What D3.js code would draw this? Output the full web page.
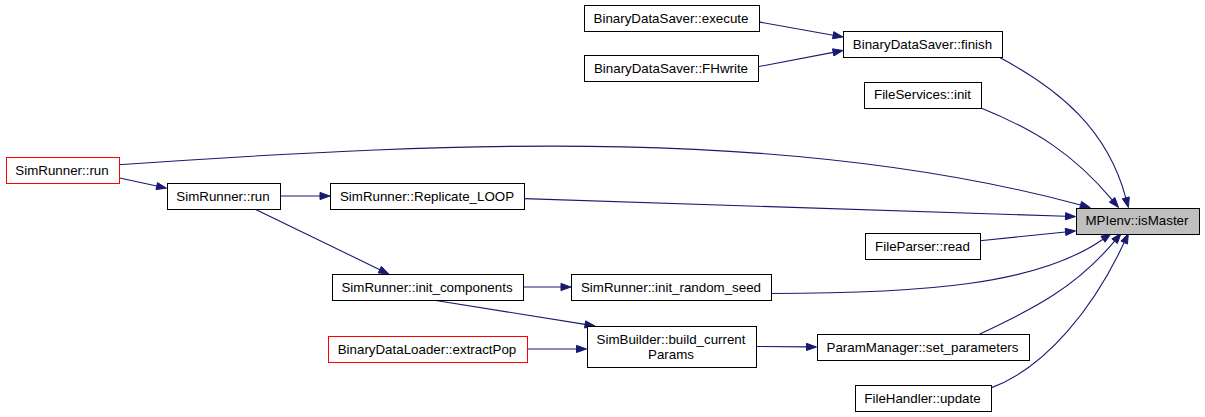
<!DOCTYPE html>
<html><head><meta charset="utf-8">
<script src="https://cdn.jsdelivr.net/npm/d3@7"></script>
<style>html,body{margin:0;padding:0;background:#fff;}svg{display:block;}</style>
</head><body>
<svg id="chart" width="1205" height="417"></svg>
<script>
// ---- data ----
const nodeLabels = ["BinaryDataSaver::execute","BinaryDataSaver::FHwrite","BinaryDataSaver::finish","FileServices::init",
  "SimRunner::run","SimRunner::run","SimRunner::Replicate_LOOP","MPIenv::isMaster","FileParser::read",
  "SimRunner::init_components","SimRunner::init_random_seed","BinaryDataLoader::extractPop",
  "SimBuilder::build_current\nParams","ParamManager::set_parameters","FileHandler::update"];
const nodeRank  = [3,3,4,4,0,1,2,5,4,2,3,2,3,4,4];
const nodeLevel = [18,68,44,94.5,170,196,196,220.5,246,287,287,349,346.5,347,398];
const nodeKind  = ["n","n","n","n","r","n","n","f","n","n","n","r","n","n","n"];
const rankNames = [0,1,2,3,4,5];
const edgeSource = [0,1,2,3,4,4,5,5,6,8,9,9,10,11,12,13,14];
const edgeTarget = [2,2,7,7,7,5,6,9,7,7,10,12,7,12,13,7,7];
// route anchors: [srcFx, srcFy, tgtFx, tgtFy, startAngle, endAngle, len1, len2]
const edgeRoutes = [
  [1,0.65,0,0.23],[1,0.45,0,0.75],
  [0.98,1,0.43,0,28,75,70,70],
  [0.99,1,0.35,0,22,50,60,60],
  [1,0.3,0.12,0,-4,15,350,297],
  [1,0.8,0,0.2],[1,0.5,0,0.5],[0.78,1,0.3,0],
  [1,0.6,0,0.35],[1,0.3,0,0.9],[1,0.5,0,0.5],[0.53,1,0.05,0],
  [1,0.75,0.29,1,0,-35,150,80],
  [1,0.5,0,0.56],[1,0.5,0,0.5],
  [0.77,0,0.37,1,-25,-50,60,60],
  [1,0.12,0.43,1,-20,-65,60,70]
];

// ---- scales ----
const x = d3.scaleOrdinal().domain(rankNames).range([62,223,427,671,922.5,1137]);
const y = d3.scaleLinear().domain([0,417]).range([0,417]);

const svg = d3.select("#chart");
const FONT = "'Liberation Sans', Arial, Helvetica, sans-serif";
const FS = 13.33, LH = 15, PAD = 10, H1 = 26;
const EDGE = "#191970";

// measure text
const meas = svg.append("text").attr("font-family",FONT).attr("font-size",FS);
const nodes = nodeLabels.map((lab,i)=>{
  const lines = lab.split("\n");
  let w = 0;
  lines.forEach(l=>{ meas.text(l); w = Math.max(w, meas.node().getComputedTextLength()); });
  const bw = Math.round(w + 2*PAD);
  const bh = lines.length===1 ? H1 : H1 + LH;
  const cx = x(nodeRank[i]), cy = y(nodeLevel[i]);
  return {i, lines, kind:nodeKind[i], x0:cx-bw/2, y0:cy-bh/2, w:bw, h:bh, cx, cy};
});
meas.remove();

// edges
const gE = svg.append("g");
edgeSource.forEach((s,k)=>{
  const a = nodes[s], b = nodes[edgeTarget[k]], r = edgeRoutes[k];
  const p0 = [a.x0 + r[0]*a.w, a.y0 + r[1]*a.h];
  const p3 = [b.x0 + r[2]*b.w, b.y0 + r[3]*b.h];
  let dir0, dir3;
  if (r.length > 4) {
    const t0 = r[4]*Math.PI/180, t1 = r[5]*Math.PI/180;
    dir0 = [Math.cos(t0), Math.sin(t0)];
    dir3 = [Math.cos(t1), Math.sin(t1)];
  } else {
    const dx = p3[0]-p0[0], dy = p3[1]-p0[1], L = Math.hypot(dx,dy);
    dir0 = dir3 = [dx/L, dy/L];
  }
  const AL = 10, AW = 3.6;
  const pe = [p3[0]-AL*dir3[0], p3[1]-AL*dir3[1]];
  const path = d3.path();
  path.moveTo(p0[0],p0[1]);
  if (r.length > 4) {
    const L1 = r[6], L2 = r[7];
    path.bezierCurveTo(p0[0]+L1*dir0[0], p0[1]+L1*dir0[1], pe[0]-L2*dir3[0], pe[1]-L2*dir3[1], pe[0], pe[1]);
  } else {
    path.lineTo(pe[0],pe[1]);
  }
  gE.append("path").attr("d",path.toString()).attr("fill","none").attr("stroke",EDGE).attr("stroke-width",1.1);
  const nx = -dir3[1], ny = dir3[0];
  const head = d3.path();
  head.moveTo(p3[0],p3[1]);
  head.lineTo(pe[0]+AW*nx, pe[1]+AW*ny);
  head.lineTo(pe[0]-AW*nx, pe[1]-AW*ny);
  head.closePath();
  gE.append("path").attr("d",head.toString()).attr("fill",EDGE).attr("stroke",EDGE).attr("stroke-width",1);
});

// nodes
const gN = svg.append("g").selectAll("g").data(nodes).join("g");
gN.append("rect")
  .attr("x",d=>Math.round(d.x0)+0.5).attr("y",d=>Math.round(d.y0)+0.5)
  .attr("width",d=>d.w).attr("height",d=>d.h)
  .attr("fill",d=>d.kind==="f"?"#bfbfbf":"#ffffff")
  .attr("stroke",d=>d.kind==="r"?"#ff0000":"#000000")
  .attr("stroke-width",1);
gN.each(function(d){
  const g = d3.select(this);
  const n = d.lines.length;
  d.lines.forEach((l,j)=>{
    g.append("text")
      .attr("x",d.cx).attr("y",d.cy + (j-(n-1)/2)*LH + 4.6)
      .attr("text-anchor","middle")
      .attr("font-family",FONT).attr("font-size",FS).attr("fill","#000")
      .text(l);
  });
});
</script>
</body></html>
